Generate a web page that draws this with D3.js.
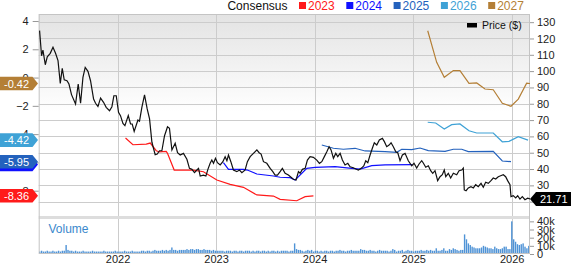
<!DOCTYPE html>
<html>
<head>
<meta charset="utf-8">
<script src="https://cdn.jsdelivr.net/npm/d3@7"></script>
<style>
  body { margin: 0; background: #fff; }
  svg { display: block; font-family: "Liberation Sans", Arial, sans-serif; }
</style>
</head>
<body>
<svg id="chart" width="571" height="264"></svg>
<script>
// ---- data (decimal year, value) ----
var years = [2022, 2023, 2024, 2025, 2026];
var priceTicks = [20, 30, 40, 50, 60, 70, 80, 90, 100, 110, 120, 130];
var epsTicks = [4, 2, 0, -2, -4, -6, -8];
var volTicks = [0, 10000, 20000, 30000, 40000];

var price = [
  [2021.209,124.8],[2021.229,109.4],[2021.243,112.9],[2021.267,103.9],[2021.287,108.8],[2021.317,110.9],
  [2021.345,114.6],[2021.371,110.9],[2021.396,106.4],[2021.419,92.5],[2021.439,101.7],[2021.459,94.7],
  [2021.487,94.1],[2021.507,92.1],[2021.533,85.6],[2021.574,79.9],[2021.601,92.1],[2021.625,80.3],
  [2021.649,96.2],[2021.672,102.3],[2021.700,99.9],[2021.726,94.1],[2021.757,82.9],[2021.777,80.3],
  [2021.801,78.4],[2021.828,83.5],[2021.858,80.9],[2021.885,77.8],[2021.919,75.7],[2021.943,78.2],
  [2021.963,84.9],[2021.987,84.9],[2022.010,74.8],[2022.030,72.7],[2022.055,68.0],[2022.075,66.6],
  [2022.109,72.7],[2022.132,67.6],[2022.149,67.6],[2022.169,63.1],[2022.207,70.0],[2022.223,69.3],
  [2022.247,77.8],[2022.274,85.4],[2022.301,76.8],[2022.325,70.7],[2022.349,56.4],[2022.382,48.8],
  [2022.403,49.2],[2022.426,51.2],[2022.450,51.2],[2022.477,60.4],[2022.494,63.5],[2022.507,65.9],
  [2022.527,65.0],[2022.552,51.7],[2022.585,55.8],[2022.609,50.0],[2022.636,48.6],[2022.669,49.6],
  [2022.704,46.0],[2022.730,40.4],[2022.755,39.8],[2022.781,37.8],[2022.805,39.4],[2022.822,40.4],
  [2022.839,35.7],[2022.872,36.3],[2022.897,35.7],[2022.917,39.8],[2022.940,43.5],[2022.957,45.5],
  [2022.974,43.5],[2022.994,46.6],[2023.014,43.9],[2023.042,42.5],[2023.069,44.5],[2023.092,47.6],
  [2023.110,45.1],[2023.126,48.6],[2023.150,44.5],[2023.176,39.4],[2023.211,38.4],[2023.237,39.4],
  [2023.262,37.8],[2023.295,39.4],[2023.318,44.5],[2023.346,47.6],[2023.379,49.6],[2023.414,51.7],
  [2023.437,50.0],[2023.457,49.2],[2023.481,44.5],[2023.515,43.5],[2023.549,40.4],[2023.576,38.4],
  [2023.599,36.3],[2023.623,36.3],[2023.650,38.4],[2023.673,40.4],[2023.701,37.4],[2023.734,36.3],
  [2023.785,33.7],[2023.812,33.3],[2023.836,38.4],[2023.853,37.4],[2023.876,39.8],[2023.904,40.4],
  [2023.927,45.5],[2023.954,47.6],[2023.988,47.2],[2024.022,45.5],[2024.049,43.5],[2024.073,44.5],
  [2024.099,47.6],[2024.124,50.6],[2024.147,53.7],[2024.167,51.7],[2024.191,46.6],[2024.215,49.6],
  [2024.235,47.6],[2024.259,49.6],[2024.282,45.5],[2024.309,42.5],[2024.337,43.5],[2024.360,41.4],
  [2024.393,40.8],[2024.418,40.0],[2024.444,39.4],[2024.472,40.4],[2024.499,41.9],[2024.519,45.1],
  [2024.540,43.9],[2024.563,48.6],[2024.586,52.7],[2024.606,56.1],[2024.631,54.7],[2024.657,57.8],
  [2024.688,58.8],[2024.708,56.8],[2024.732,53.7],[2024.756,54.7],[2024.776,56.1],[2024.799,53.7],
  [2024.824,50.6],[2024.844,50.0],[2024.867,45.1],[2024.891,48.6],[2024.918,49.6],[2024.951,45.1],
  [2024.986,42.0],[2025.009,43.5],[2025.036,40.6],[2025.060,43.1],[2025.087,45.1],[2025.103,43.7],
  [2025.128,41.1],[2025.154,42.0],[2025.178,39.0],[2025.199,37.4],[2025.222,39.0],[2025.249,32.9],
  [2025.273,35.3],[2025.296,36.5],[2025.316,39.4],[2025.331,35.3],[2025.357,37.4],[2025.381,34.5],
  [2025.408,37.4],[2025.442,36.5],[2025.466,39.0],[2025.493,39.4],[2025.509,40.6],[2025.519,27.2],
  [2025.537,26.7],[2025.560,28.4],[2025.587,29.2],[2025.611,28.4],[2025.635,30.4],[2025.661,29.2],
  [2025.689,31.2],[2025.712,28.8],[2025.736,31.9],[2025.763,31.2],[2025.790,32.9],[2025.813,34.5],
  [2025.838,33.9],[2025.864,35.3],[2025.888,35.9],[2025.915,36.5],[2025.939,35.3],[2025.959,32.9],
  [2025.983,30.4],[2025.993,23.1],[2026.016,23.7],[2026.041,22.3],[2026.061,23.7],[2026.084,21.6],
  [2026.108,23.1],[2026.135,21.2],[2026.162,22.1],[2026.186,21.71]
];

var eps2023 = [
  [2022.081,-4.27],[2022.156,-4.75],[2022.291,-4.70],[2022.332,-4.63],[2022.393,-5.17],[2022.426,-5.26],
  [2022.494,-5.22],[2022.507,-5.36],[2022.575,-6.54],[2022.771,-6.54],[2022.872,-6.66],[2023.008,-7.24],
  [2023.143,-7.55],[2023.278,-7.76],[2023.414,-8.30],[2023.582,-8.38],[2023.650,-8.61],[2023.819,-8.71],
  [2023.904,-8.42],[2023.988,-8.36]
];
var eps2024 = [
  [2023.075,-6.02],[2023.126,-6.49],[2023.278,-6.49],[2023.318,-6.54],[2023.414,-6.82],[2023.582,-6.96],
  [2023.650,-7.05],[2023.751,-7.08],[2023.802,-7.24],[2023.921,-6.42],[2024.005,-6.35],[2024.208,-6.30],
  [2024.377,-6.42],[2024.462,-6.47],[2024.580,-6.23],[2024.715,-6.18],[2024.990,-6.15]
];
var eps2025 = [
  [2024.073,-4.77],[2024.191,-5.00],[2024.292,-5.07],[2024.411,-5.00],[2024.512,-5.19],[2024.715,-5.24],
  [2024.834,-5.29],[2024.884,-5.07],[2024.986,-5.10],[2025.070,-4.98],[2025.154,-5.17],[2025.324,-5.22],
  [2025.408,-5.07],[2025.493,-5.07],[2025.560,-5.24],[2025.813,-5.22],[2025.905,-5.90],[2025.993,-5.95]
];
var eps2026 = [
  [2025.148,-3.16],[2025.229,-3.21],[2025.316,-3.64],[2025.391,-3.33],[2025.475,-3.28],[2025.567,-3.76],
  [2025.645,-3.92],[2025.813,-3.92],[2025.905,-4.54],[2025.973,-4.51],[2026.067,-4.18],[2026.166,-4.42]
];
var eps2027 = [
  [2025.148,3.31],[2025.239,1.08],[2025.316,0.02],[2025.408,0.49],[2025.475,0.49],[2025.567,-0.41],
  [2025.645,-0.38],[2025.729,-0.81],[2025.813,-0.86],[2025.905,-1.82],[2025.993,-2.03],[2026.067,-1.52],
  [2026.152,-0.40],[2026.186,-0.42]
];

// weekly volume in thousands, first week at 2021.21
var volStart = 2021.21;
var volume = [
  3,4,3,3,4,3,3,4,3,3,4,3,4,
  4,11,5,4,4,3,4,3,3,3,4,3,3,
  3,3,4,3,3,3,3,3,4,3,3,3,3,
  3,4,3,3,3,3,4,3,3,3,4,3,3,
  3,3,4,4,3,4,4,3,4,5,4,4,4,
  5,4,5,4,5,8,5,5,4,5,5,5,5,
  6,5,6,6,5,6,6,5,5,6,5,5,5,
  4,5,4,4,4,4,4,3,4,4,4,3,4,
  4,3,4,4,3,4,4,4,3,4,3,4,4,
  3,4,4,3,4,3,4,4,3,4,3,4,4,
  4,4,3,4,4,13,6,5,5,4,3,4,5,
  4,5,3,4,4,3,4,3,4,4,3,4,4,
  3,4,4,5,4,4,3,4,4,5,4,4,4,
  4,6,5,5,4,4,5,4,4,3,4,5,4,
  4,4,4,3,4,6,5,3,4,4,5,3,4,
  5,4,4,3,4,4,4,5,4,4,5,4,5,
  4,4,7,4,4,5,7,4,4,6,5,7,6,
  5,4,5,5,24,
  18,13,11,9,8,7,7,7,8,10,9,8,7,7,6,9,7,6,6,7,9,9,6,6,
  40,18,15,12,11,12,13,9,7,10
];

// label: text on the left tag (2024's tag sits hidden behind 2025's)
var series = [
  { name: "2023", color: "#ff1a1a", data: eps2023, label: "-8.36" },
  { name: "2024", color: "#1010ff", data: eps2024, label: "" },
  { name: "2025", color: "#2462bd", data: eps2025, label: "-5.95" },
  { name: "2026", color: "#3fa2d6", data: eps2026, label: "-4.42" },
  { name: "2027", color: "#b47f36", data: eps2027, label: "-0.42" }
];

// ---- layout ----
var L = 38.7, R = 530, T = 14, MB = 218, VB = 254;
var font = "'Liberation Sans', Arial, sans-serif";

var svg = d3.select("#chart");

var x = d3.scaleLinear().domain([2021.2, 2026.186]).range([L, R]);
var yP = d3.scaleLinear().domain([10, 135]).range([MB, T]);
var yE = d3.scaleLinear().domain([-9.93, 4.495]).range([MB, T]);
var yV = d3.scaleLinear().domain([0, 44100]).range([VB, MB]);

var defs = svg.append("defs");
var grad = defs.append("linearGradient").attr("id", "bg")
  .attr("x1", 0).attr("y1", 0).attr("x2", 0).attr("y2", 1);
grad.append("stop").attr("offset", "0%").attr("stop-color", "#e3e3e3");
grad.append("stop").attr("offset", "48%").attr("stop-color", "#ffffff");
grad.append("stop").attr("offset", "100%").attr("stop-color", "#ffffff");
defs.append("clipPath").attr("id", "clip").append("rect")
  .attr("x", L).attr("y", T).attr("width", R - L).attr("height", MB - T);

svg.append("rect").attr("x", L).attr("y", T).attr("width", R - L).attr("height", MB - T)
  .attr("fill", "url(#bg)");

// grid
svg.append("g").selectAll("line").data(priceTicks).enter().append("line")
  .attr("x1", L).attr("x2", R)
  .attr("y1", function(d) { return Math.round(yP(d)) + 0.5; })
  .attr("y2", function(d) { return Math.round(yP(d)) + 0.5; })
  .attr("stroke", "#cccccc");
svg.append("g").selectAll("line").data(years).enter().append("line")
  .attr("y1", T).attr("y2", VB)
  .attr("x1", function(d) { return Math.round(x(d)) + 0.5; })
  .attr("x2", function(d) { return Math.round(x(d)) + 0.5; })
  .attr("stroke", "#cccccc");

// pane separator
svg.append("rect").attr("x", L).attr("y", 216).attr("width", R - L).attr("height", 3).attr("fill", "#dddddd");

// volume bars
svg.append("g").selectAll("rect").data(volume).enter().append("rect")
  .attr("x", function(d, i) { return x(volStart + i * 7 / 365.25) - 0.7; })
  .attr("width", 1.4)
  .attr("y", function(d) { return yV(d * 1000); })
  .attr("height", function(d) { return VB - yV(d * 1000); })
  .attr("fill", "#4f93d6");

svg.append("text").attr("x", 48.5).attr("y", 233).attr("font-size", 12)
  .attr("fill", "#3a88cc").text("Volume");

// frame
svg.append("rect").attr("x", L + 0.5).attr("y", T + 0.5).attr("width", R - L - 1).attr("height", VB - T - 1)
  .attr("fill", "none").attr("stroke", "#c4c4c4");

// consensus lines
var line = d3.line().x(function(d) { return x(d[0]); }).y(function(d) { return yE(d[1]); });
var plot = svg.append("g").attr("clip-path", "url(#clip)");
series.forEach(function(s) {
  plot.append("path").datum(s.data).attr("d", line)
    .attr("fill", "none").attr("stroke", s.color).attr("stroke-width", 1.2);
});

// price line
var pline = d3.line().x(function(d) { return x(d[0]); }).y(function(d) { return yP(d[1]); });
plot.append("path").datum(price).attr("d", pline)
  .attr("fill", "none").attr("stroke", "#111").attr("stroke-width", 1.2);

// x axis
svg.append("g").attr("transform", "translate(0," + VB + ")")
  .call(d3.axisBottom(x).tickValues(years).tickFormat(d3.format("d")).tickSize(0).tickPadding(0))
  .call(function(g) {
    g.select(".domain").remove();
    g.selectAll("text").attr("font-size", 11).attr("fill", "#222").attr("dy", "0.82em")
      .attr("font-family", font);
  });

// right price axis
svg.append("g").attr("transform", "translate(" + R + ",0)")
  .call(d3.axisRight(yP).tickValues(priceTicks).tickSize(4).tickPadding(3))
  .call(function(g) {
    g.select(".domain").remove();
    g.selectAll("line").attr("stroke", "#999");
    g.selectAll("text").attr("font-size", 11).attr("fill", "#222").attr("font-family", font);
  });

// right volume axis
svg.append("g").attr("transform", "translate(" + R + ",0)")
  .call(d3.axisRight(yV).tickValues(volTicks).tickSize(4).tickPadding(3)
    .tickFormat(function(d) { return d === 0 ? "0" : (d / 1000) + "k"; }))
  .call(function(g) {
    g.select(".domain").remove();
    g.selectAll("line").attr("stroke", "#999");
    g.selectAll("text").attr("font-size", 11).attr("fill", "#222").attr("font-family", font);
  });

// left EPS axis
svg.append("g").attr("transform", "translate(" + L + ",0)")
  .call(d3.axisLeft(yE).tickValues(epsTicks).tickSize(6).tickPadding(4).tickFormat(d3.format("d")))
  .call(function(g) {
    g.select(".domain").remove();
    g.selectAll("line").attr("stroke", "#999");
    g.selectAll("text").attr("font-size", 11).attr("fill", "#222").attr("font-family", font);
  });

// left value tags
series.forEach(function(s) {
  var last = s.data[s.data.length - 1];
  var cy = yE(last[1]);
  var g = svg.append("g").attr("transform", "translate(0," + cy + ")");
  g.append("path").attr("d", "M0,-6.8H32.5L38,0L32.5,6.8H0Z").attr("fill", s.color);
  if (s.label) {
    g.append("text").attr("x", 4).attr("y", 4).attr("font-size", 11).attr("fill", "#fff").text(s.label);
  }
});

// right price tag
var lastP = price[price.length - 1];
var py = yP(lastP[1]);
var pg = svg.append("g").attr("transform", "translate(" + R + "," + py + ")");
pg.append("path").attr("d", "M0,0L6,-7H41V7H6Z").attr("fill", "#000");
pg.append("text").attr("x", 10).attr("y", 4).attr("font-size", 11).attr("fill", "#fff")
  .text(lastP[1].toFixed(2));

// top legend
svg.append("text").attr("x", 287.5).attr("y", 10).attr("text-anchor", "end")
  .attr("font-size", 12).attr("fill", "#111").text("Consensus");
var leg = svg.append("g").selectAll("g").data(series).enter().append("g")
  .attr("transform", function(d, i) { return "translate(" + (299 + i * 47.3) + ",0)"; });
leg.append("rect").attr("x", 0).attr("y", 2).attr("width", 7).attr("height", 7)
  .attr("fill", function(d) { return d.color; });
leg.append("text").attr("x", 9).attr("y", 10).attr("font-size", 12)
  .attr("fill", function(d) { return d.color; }).text(function(d) { return d.name; });

// price legend
svg.append("rect").attr("x", 467).attr("y", 23).attr("width", 10).attr("height", 4.5).attr("fill", "#000");
svg.append("text").attr("x", 482).attr("y", 29).attr("font-size", 10.5).attr("fill", "#111").text("Price ($)");
</script>
</body>
</html>
